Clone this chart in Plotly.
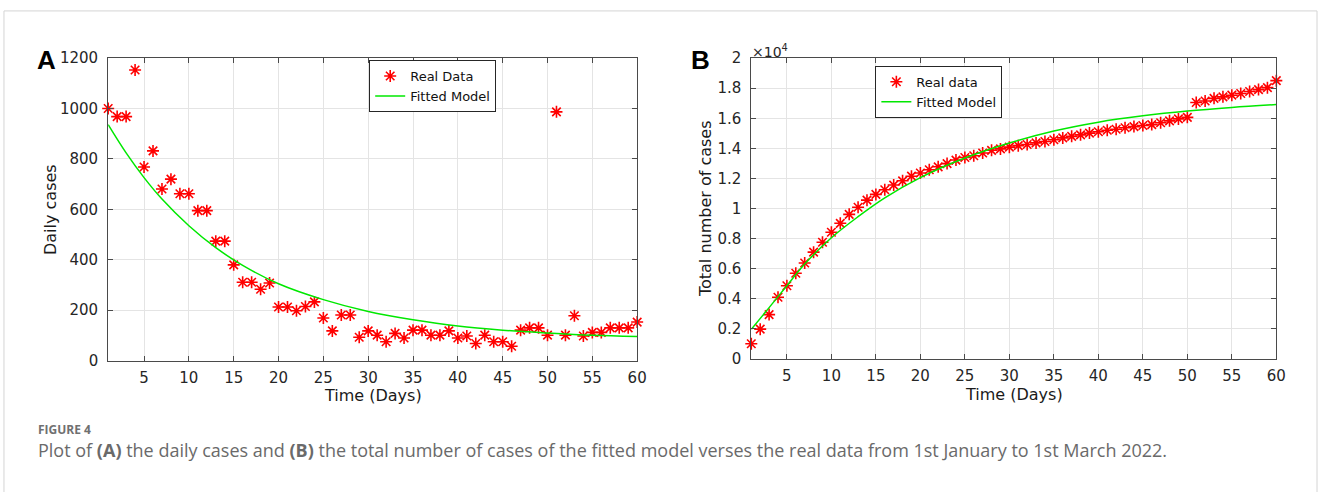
import plotly.graph_objects as go

# ---------------- data ----------------
days = list(range(1, 61))

daily_cases = [1000, 968, 968, 1153, 768, 832, 681, 720, 662, 662,
               595, 595, 474, 474, 380, 311, 311, 283, 308, 213,
               213, 198, 215, 233, 169, 118, 181, 181, 93, 118,
               101, 75, 108, 90, 121, 121, 101, 101, 118, 90,
               98, 68, 101, 75, 75, 57, 121, 130, 130, 101,
               987, 101, 178, 98, 112, 112, 130, 130, 130, 153]

total_cases = [1000, 1968, 2936, 4089, 4857, 5689, 6370, 7090, 7752, 8414,
               9009, 9604, 10078, 10552, 10932, 11243, 11554, 11837, 12145, 12358,
               12571, 12769, 12984, 13217, 13386, 13504, 13685, 13866, 13959, 14077,
               14178, 14253, 14361, 14451, 14572, 14693, 14794, 14895, 15013, 15103,
               15201, 15269, 15370, 15445, 15520, 15577, 15698, 15828, 15958, 16059,
               17046, 17147, 17325, 17423, 17535, 17647, 17777, 17907, 18037, 18500]

fit_days = [1, 3, 5, 7, 10, 13, 16, 20, 25, 30, 35, 40, 45, 50, 55, 60]
fit_daily = [936, 824, 726, 641, 535, 448, 378, 305, 242, 195, 162, 137, 121, 110, 101, 96]
fit_total = [1960, 3400, 4860, 6300, 8050, 9450, 10700, 12050, 13350, 14350,
             15150, 15740, 16160, 16480, 16720, 16910]

x_ticks = [5, 10, 15, 20, 25, 30, 35, 40, 45, 50, 55, 60]
ya_ticks = [0, 200, 400, 600, 800, 1000, 1200]
yb_ticks = [0, 2000, 4000, 6000, 8000, 10000, 12000, 14000, 16000, 18000, 20000]
yb_text = ["0", "0.2", "0.4", "0.6", "0.8", "1", "1.2", "1.4", "1.6", "1.8", "2"]

W, H = 1328, 492
def px(x):
    return x / W
def py(y):
    return 1 - y / H

RED = "#ff0000"
GREEN = "#00e800"
AXC = "#4a4a4a"
TICKFONT = dict(family="DejaVu Sans", size=15, color="#262626")

fig = go.Figure()

fig.add_trace(go.Scatter(x=days, y=daily_cases, mode="markers", name="Real Data",
                         marker=dict(symbol="asterisk-open", size=10,
                                     line=dict(color=RED, width=1.6), color=RED),
                         cliponaxis=False, xaxis="x", yaxis="y", legend="legend"))
fig.add_trace(go.Scatter(x=fit_days, y=fit_daily, mode="lines", name="Fitted Model",
                         line=dict(color=GREEN, width=1.5, shape="spline"),
                         xaxis="x", yaxis="y", legend="legend"))
fig.add_trace(go.Scatter(x=days, y=total_cases, mode="markers", name="Real data",
                         marker=dict(symbol="asterisk-open", size=10,
                                     line=dict(color=RED, width=1.6), color=RED),
                         cliponaxis=False, xaxis="x2", yaxis="y2", legend="legend2"))
fig.add_trace(go.Scatter(x=fit_days, y=fit_total, mode="lines", name="Fitted Model",
                         line=dict(color=GREEN, width=1.5, shape="spline"),
                         xaxis="x2", yaxis="y2", legend="legend2"))

def xaxis(domain, anchor):
    return dict(domain=domain, anchor=anchor, range=[1, 60], tickvals=x_ticks,
                showline=True, linecolor=AXC, linewidth=1, mirror="ticks",
                ticks="inside", ticklen=5, tickcolor=AXC, showgrid=True,
                gridcolor="#e4e4e4", gridwidth=1, zeroline=False,
                tickfont=TICKFONT, ticklabelstandoff=3)

def yaxis(domain, anchor, rng, vals, text=None):
    d = dict(domain=domain, anchor=anchor, range=rng, tickvals=vals,
             showline=True, linecolor=AXC, linewidth=1, mirror="ticks",
             ticks="inside", ticklen=5, tickcolor=AXC, showgrid=True,
             gridcolor="#e4e4e4", gridwidth=1, zeroline=False,
             tickfont=TICKFONT, ticklabelstandoff=6)
    if text is not None:
        d["ticktext"] = text
    return d

legend_style = dict(bgcolor="white", bordercolor="#262626", borderwidth=1,
                    font=dict(family="DejaVu Sans", size=13, color="#111111"),
                    xanchor="left", yanchor="top", tracegroupgap=0)

fig.update_layout(
    width=W, height=H, margin=dict(l=0, r=0, t=0, b=0),
    paper_bgcolor="white", plot_bgcolor="white",
    showlegend=True,
    xaxis=xaxis([px(109), px(642)], "y"),
    yaxis=yaxis([py(365), py(51)], "x", [0, 1200], ya_ticks),
    xaxis2=xaxis([px(757), px(1286)], "y2"),
    yaxis2=yaxis([py(363), py(51)], "x2", [0, 20000], yb_ticks, yb_text),
    legend=dict(x=px(372), y=py(53), **legend_style),
    legend2=dict(x=px(882), y=py(59), **legend_style),
)

ann = []
def add_text(text, x, y, size, family="DejaVu Sans", color="#1a1a1a",
             xanchor="center", yanchor="middle", angle=0):
    ann.append(dict(text=text, x=px(x), y=py(y), xref="paper", yref="paper",
                    showarrow=False, xanchor=xanchor, yanchor=yanchor,
                    textangle=angle, font=dict(family=family, size=size, color=color)))

add_text("<b>A</b>", 47, 53, 26, family="Liberation Sans", color="#000000")
add_text("<b>B</b>", 706, 53, 26, family="Liberation Sans", color="#000000")
add_text("Time (Days)", 376, 401, 16)
add_text("Time (Days)", 1022, 400, 16)
add_text("Daily cases", 51, 208, 16, angle=-90)
add_text("Total number of cases", 711, 207, 16, angle=-90)
add_text("\u00d710<sup>4</sup>", 756, 44, 14, xanchor="left", color="#262626")
add_text("<b>FIGURE 4</b>", 36, 436, 12, family="Open Sans", color="#707070",
         xanchor="left")
add_text("Plot of <b>(A)</b> the daily cases and <b>(B)</b> the total number of cases of the "
         "fitted model verses the real data from 1st January to 1st March 2022.",
         36, 458, 18, family="Open Sans", color="#6a6a6a", xanchor="left")
fig.update_layout(annotations=ann)

fig.add_shape(type="rect", xref="paper", yref="paper",
              x0=px(4), x1=px(1327), y0=py(520), y1=py(2),
              line=dict(color="#d4d4d4", width=1), fillcolor="rgba(0,0,0,0)")

fig.write_html("out.html")
